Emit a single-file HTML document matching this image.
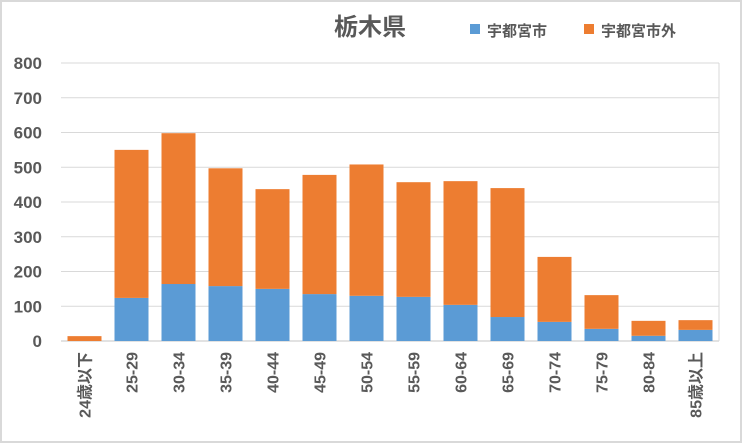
<!DOCTYPE html>
<html><head><meta charset="utf-8"><style>
body{margin:0;background:#fff}
svg text{font-family:"Liberation Sans","Noto Sans CJK JP",sans-serif;font-weight:bold;fill:#595959}
</style></head><body>
<svg id="c" width="742" height="443">
<rect x="1" y="1" width="740" height="441" fill="#fff" stroke="#d9d9d9" stroke-width="2"/>
<text x="370" y="35" font-size="24" text-anchor="middle">栃木県</text>
<g>
<rect x="470" y="24" width="10" height="10" fill="#5b9bd5"/>
<text x="487" y="36" font-size="15">宇都宮市</text>
<rect x="584" y="24" width="10" height="10" fill="#ed7d31"/>
<text x="601" y="36" font-size="15">宇都宮市外</text>
</g>
<g id="grid"></g><g id="bars"></g><g id="labels"></g>
</svg>
<script>
const categories=["24歳以下","25-29","30-34","35-39","40-44","45-49","50-54","55-59","60-64","65-69","70-74","75-79","80-84","85歳以上"];
const cityValues=[0,124,164,158,150,135,130,127,104,69,55,35,15,32];
const totalValues=[14,550,598,497,437,478,508,457,460,440,242,132,58,60];
const yTicks=[0,100,200,300,400,500,600,700,800];
const NS="http://www.w3.org/2000/svg";
const L=61,R=719,T=63,B=341,MAX=800;
const bw=(R-L)/categories.length;
const y=v=>B-(v/MAX)*(B-T);
const x=i=>L+bw*i+bw/2;
function mk(t,a,p){const e=document.createElementNS(NS,t);for(const k in a)e.setAttribute(k,a[k]);p.appendChild(e);return e;}
const g=document.getElementById('grid'),bg=document.getElementById('bars'),lg=document.getElementById('labels');
yTicks.forEach(v=>{
 const ln=mk('line',{x1:L,x2:R,y1:y(v),y2:y(v),stroke:'#d9d9d9','stroke-width':1},g);
 
 
 const t=mk('text',{x:42,y:y(v)+6,'font-size':17,'text-anchor':'end'},lg);t.textContent=v;
 
 
});
const vb=mk('line',{x1:R,x2:R,y1:T,y2:B,stroke:'#d9d9d9'},g);


categories.forEach((c,i)=>{
 const w=34,cx=x(i);
 const b1=mk('rect',{x:cx-w/2,y:y(cityValues[i]),width:w,height:B-y(cityValues[i]),fill:'#5b9bd5'},bg);
 
 
 const b2=mk('rect',{x:cx-w/2,y:y(totalValues[i]),width:w,height:y(cityValues[i])-y(totalValues[i]),fill:'#ed7d31'},bg);
 
 
 const t=mk('text',{x:0,y:0,'font-size':16,'text-anchor':'end',transform:`translate(${cx+6},352) rotate(-90)`},lg);t.textContent=c;
 
 
});
const ax=mk('line',{x1:L,x2:R,y1:B,y2:B,stroke:'#d9d9d9','stroke-width':1.5},g);


</script>
</body></html>
